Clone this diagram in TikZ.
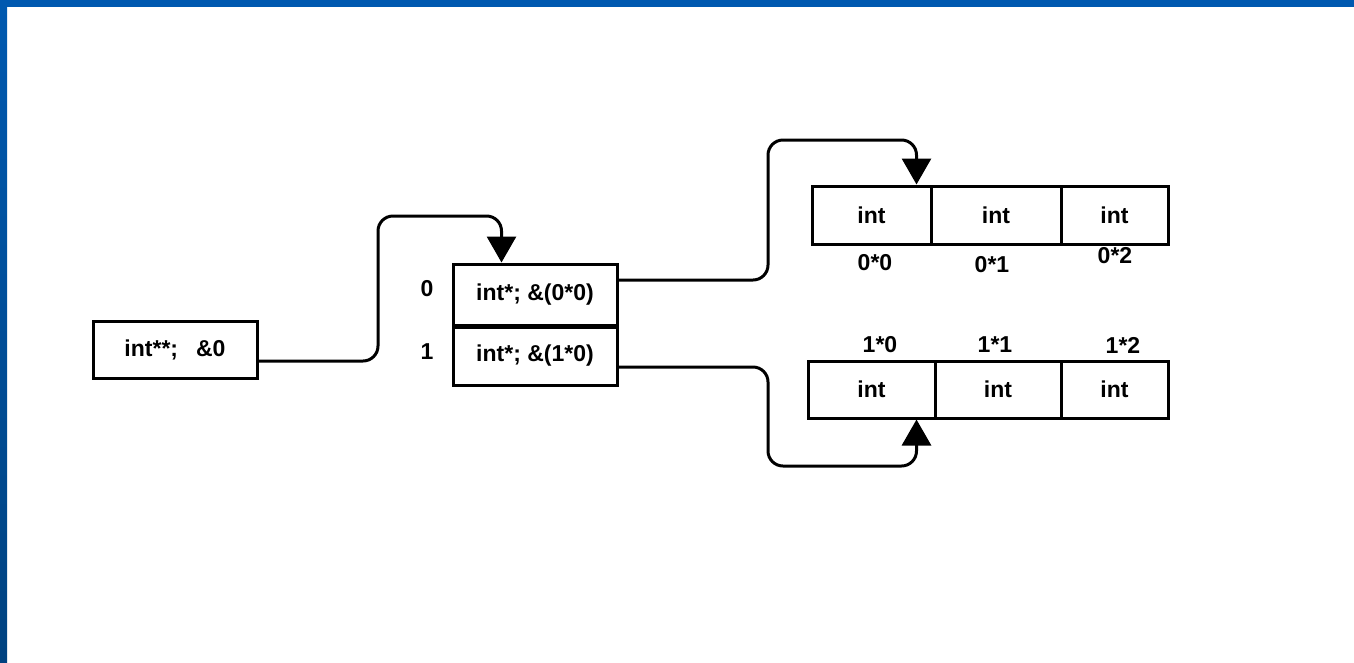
\documentclass[tikz,border=0pt]{standalone}
\usepackage{fontspec}
\setmainfont{Liberation Sans}
\usetikzlibrary{arrows.meta,calc}

\definecolor{slideblue}{RGB}{0,89,176}
\definecolor{slidebluedark}{RGB}{0,66,128}

\begin{document}
\begin{tikzpicture}[x=1pt,y=-1pt,
  every node/.style={font=\bfseries\fontsize{23}{27}\selectfont},
  cell/.style={draw,line width=3pt,inner sep=0pt,minimum height=58pt},
  link/.style={line width=3pt,rounded corners=15pt,-{Triangle[length=26pt,width=29pt]}}]

% Slide frame
\useasboundingbox (0,0) rectangle (1354,662);
\fill[slideblue] (0,0) rectangle (1354,7);
\shade[top color=slideblue,bottom color=slidebluedark] (0,0) rectangle (7,662);

% Pointer to pointer
\node[cell,minimum width=164pt,minimum height=57pt] (intpp) at (175,349.5) {int**;\hspace{18pt}\&0};

% Row pointers
\node[cell,minimum width=164pt,minimum height=61pt] (ptr0) at (535,294.5) {int*; \&(0*0)};
\node[cell,minimum width=164pt,minimum height=58pt] (ptr1) at (535,356) {int*; \&(1*0)};
\node (idx0) at (427,289) {0};
\node (idx1) at (427,352) {1};

% Rows of ints
\foreach \j/\cx/\w in {0/871.5/119, 1/996/130, 2/1114.5/107} {
    \node[cell,minimum width=\w pt] (arr0\j) at (\cx,215) {int};
}
\foreach \j/\cx/\w in {0/871.5/127, 1/998/126, 2/1114.5/107} {
    \node[cell,minimum width=\w pt,minimum height=57pt] (arr1\j) at (\cx,389.5) {int};
}

% Labels
\foreach \j/\lx/\ly in {0/875/263, 1/992/265, 2/1115/256} {
    \node (lab0\j) at (\lx,\ly) {0*\j};
}
\foreach \j/\lx in {0/880, 1/995, 2/1123} {
    \node (lab1\j) at (\lx,345) {1*\j};
}

% Connectors
\draw[link] ($(intpp.east)+(0,11.5)$) -| (378,216) -| ($(ptr0.north west)+(50,0)$);
\draw[link] ($(ptr0.east)+(0,-14.5)$) -| (768,140) -| ($(arr00.north west)+(106,0)$);
\draw[link] ($(ptr1.east)+(0,11)$) -| (768,466) -| ($(arr10.south west)+(110,0)$);

\end{tikzpicture}
\end{document}
